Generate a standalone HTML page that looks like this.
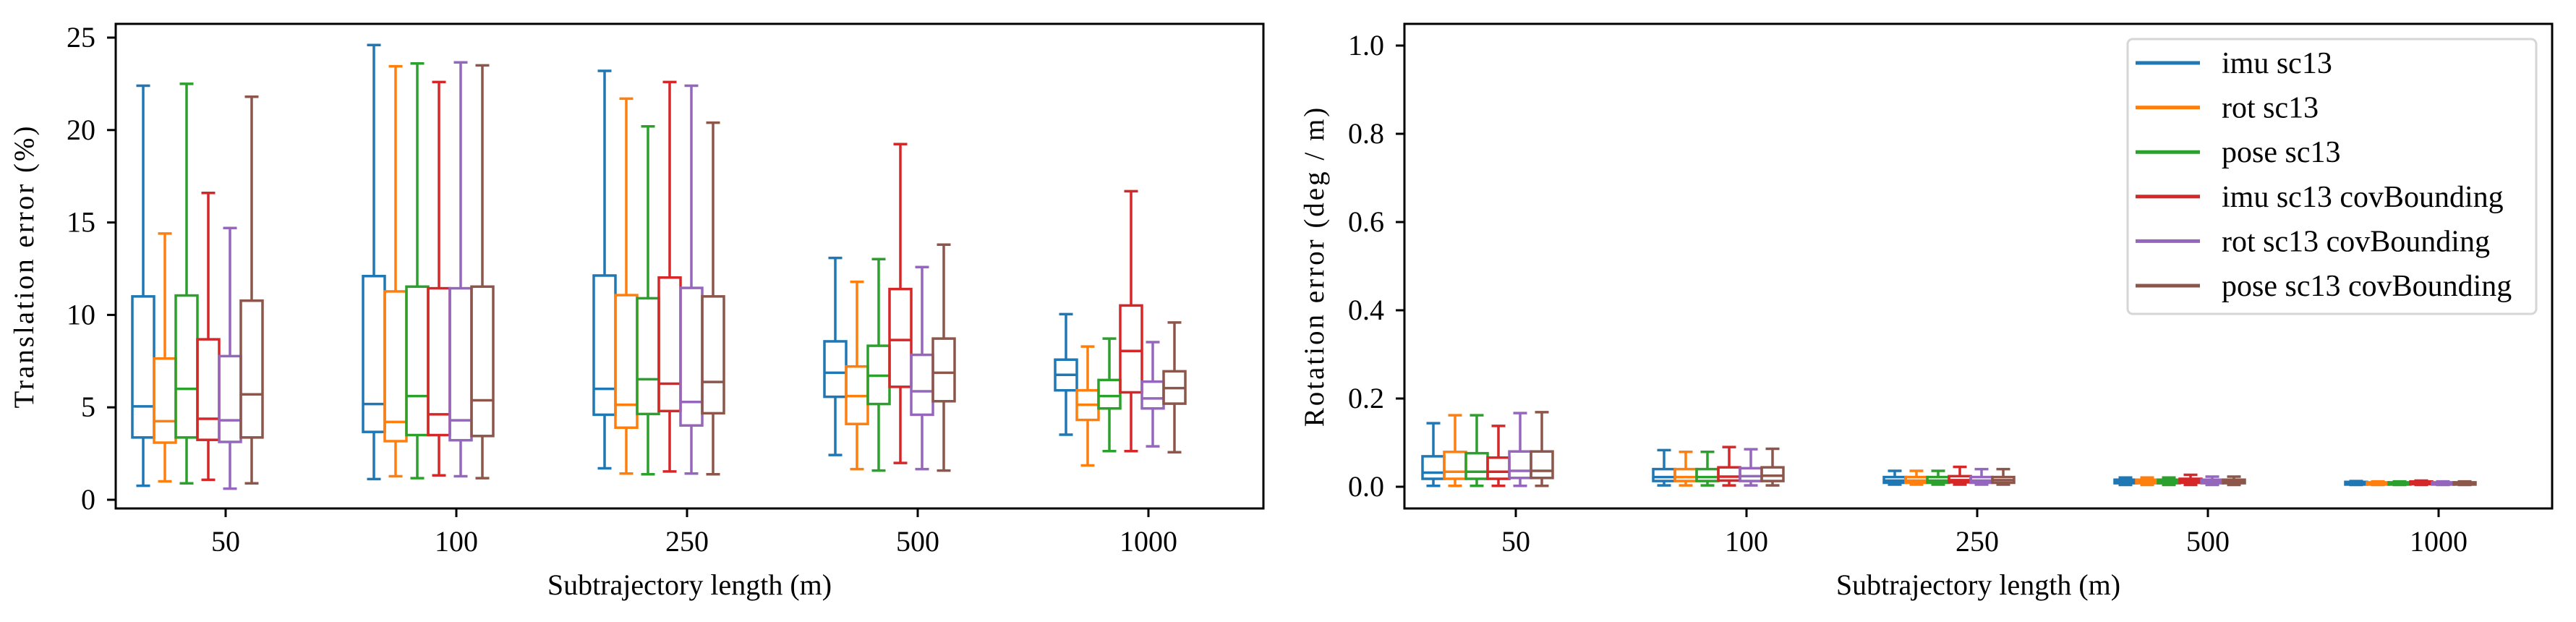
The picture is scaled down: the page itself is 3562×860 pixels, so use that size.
<!DOCTYPE html>
<html><head><meta charset="utf-8"><style>
html,body{margin:0;padding:0;background:#fff;}
svg{display:block;}
text{font-family:"Liberation Serif",serif;fill:#000;}
</style></head><body>
<svg id="chart" width="3562" height="860" xmlns="http://www.w3.org/2000/svg">
<rect width="3562" height="860" fill="#fff"/>
<g id="left"></g>
<g id="right"></g>
</svg>
<script>
const categories = ["50","100","250","500","1000"];
const seriesNames = ["imu sc13","rot sc13","pose sc13","imu sc13 covBounding","rot sc13 covBounding","pose sc13 covBounding"];
const colors = ["#1f77b4","#ff7f0e","#2ca02c","#d62728","#9467bd","#8c564b"];
const leftYTicks = [0,5,10,15,20,25];
const rightYTicks = ["0.0","0.2","0.4","0.6","0.8","1.0"];
// translation error [whislo,q1,med,q3,whishi] per series per category
const transImu      = [[0.76,3.37,5.05,11.0,22.4],[1.12,3.67,5.18,12.1,24.6],[1.7,4.6,6.0,12.13,23.2],[2.42,5.57,6.87,8.57,13.08],[3.52,5.92,6.76,7.58,10.04]];
const transRot      = [[1.0,3.09,4.25,7.64,14.4],[1.27,3.17,4.21,11.27,23.45],[1.42,3.9,5.14,11.07,21.7],[1.66,4.1,5.61,7.21,11.79],[1.86,4.32,5.14,5.92,8.29]];
const transPose     = [[0.89,3.37,6.0,11.05,22.5],[1.17,3.5,5.61,11.53,23.6],[1.38,4.64,6.52,10.9,20.2],[1.58,5.18,6.71,8.33,13.02],[2.63,4.94,5.61,6.48,8.72]];
const transImuCov   = [[1.08,3.24,4.38,8.68,16.6],[1.32,3.5,4.62,11.44,22.6],[1.53,4.8,6.28,12.02,22.6],[1.99,6.11,8.64,11.4,19.24],[2.63,5.81,8.05,10.51,16.69]];
const transRotCov   = [[0.6,3.13,4.3,7.77,14.7],[1.27,3.22,4.3,11.44,23.66],[1.42,4.02,5.29,11.46,22.4],[1.66,4.6,5.87,7.84,12.59],[2.89,4.94,5.48,6.39,8.53]];
const transPoseCov  = [[0.89,3.37,5.7,10.77,21.8],[1.17,3.45,5.38,11.53,23.5],[1.38,4.68,6.37,11.0,20.4],[1.58,5.33,6.87,8.72,13.8],[2.57,5.2,6.04,6.95,9.59]];
// rotation error
const rotImu     = [[0.002,0.018,0.032,0.069,0.144],[0.003,0.013,0.022,0.040,0.083],[0.005,0.009,0.014,0.022,0.036],[0.004,0.008,0.012,0.016,0.021],[0.004,0.005,0.008,0.011,0.013]];
const rotRot     = [[0.002,0.018,0.034,0.079,0.162],[0.003,0.013,0.022,0.040,0.079],[0.005,0.009,0.014,0.022,0.036],[0.004,0.008,0.012,0.016,0.021],[0.004,0.005,0.008,0.010,0.012]];
const rotPose    = [[0.002,0.018,0.034,0.076,0.162],[0.003,0.013,0.022,0.040,0.079],[0.005,0.009,0.014,0.022,0.036],[0.004,0.008,0.012,0.016,0.021],[0.004,0.005,0.007,0.010,0.012]];
const rotImuCov  = [[0.002,0.018,0.034,0.066,0.138],[0.003,0.014,0.023,0.044,0.090],[0.005,0.010,0.015,0.024,0.045],[0.004,0.009,0.013,0.018,0.027],[0.004,0.006,0.009,0.012,0.014]];
const rotRotCov  = [[0.002,0.020,0.036,0.080,0.167],[0.003,0.013,0.024,0.042,0.085],[0.005,0.009,0.014,0.022,0.040],[0.004,0.008,0.012,0.016,0.023],[0.004,0.005,0.008,0.010,0.012]];
const rotPoseCov = [[0.002,0.020,0.036,0.080,0.169],[0.003,0.013,0.025,0.044,0.086],[0.005,0.009,0.015,0.022,0.040],[0.004,0.008,0.012,0.016,0.023],[0.004,0.005,0.008,0.010,0.012]];

const NS="http://www.w3.org/2000/svg";
function mk(parent,tag,attrs,txt){const e=document.createElementNS(NS,tag);for(const k in attrs)e.setAttribute(k,attrs[k]);if(txt!==undefined)e.textContent=txt;parent.appendChild(e);return e;}

function panel(g,cfg){
  const {x0,x1,y0,y1,tick0,tickStep,yv0,yp0,yv1,yp1,data,yTicks,yLabels,ylabel,ylabelX,tickLabelRight}=cfg;
  const Y=v=>yp0+(v-yv0)*(yp1-yp0)/(yv1-yv0);
  const X=i=>tick0+i*tickStep;
  const off=[-114,-84,-54,-24,6,36];
  const bw=30, cw=19;
  categories.forEach((c,ci)=>{
    data.forEach((ser,si)=>{
      const d=ser[ci]; const cx=X(ci)+off[si]; const col=colors[si];
      const bg=mk(g,'g',{});
      
      
      const st={stroke:col,'stroke-width':3.5,fill:'none'};
      mk(bg,'line',Object.assign({x1:cx,x2:cx,y1:Y(d[0]),y2:Y(d[1])},st));
      mk(bg,'line',Object.assign({x1:cx,x2:cx,y1:Y(d[3]),y2:Y(d[4])},st));
      mk(bg,'line',Object.assign({x1:cx-cw/2,x2:cx+cw/2,y1:Y(d[0]),y2:Y(d[0])},st));
      mk(bg,'line',Object.assign({x1:cx-cw/2,x2:cx+cw/2,y1:Y(d[4]),y2:Y(d[4])},st));
      mk(bg,'rect',Object.assign({x:cx-bw/2,y:Y(d[3]),width:bw,height:Math.max(0.5,Y(d[1])-Y(d[3]))},st));
      mk(bg,'line',Object.assign({x1:cx-bw/2,x2:cx+bw/2,y1:Y(d[2]),y2:Y(d[2])},st));
    });
    const t=mk(g,'line',{x1:X(ci),x2:X(ci),y1:y1,y2:y1+12,stroke:'#000','stroke-width':3});
    
    
    const tl=mk(g,'text',{x:X(ci),y:762,'font-size':40,'text-anchor':'middle'},c);
    
    
  });
  yTicks.forEach((v,i)=>{
    const yy=Y(v);
    mk(g,'line',{x1:x0-12,x2:x0,y1:yy,y2:yy,stroke:'#000','stroke-width':3});
    const tl=mk(g,'text',{x:tickLabelRight,y:yy+13,'font-size':40,'text-anchor':'end'},yLabels[i]);
    
    
  });
  const fr=mk(g,'rect',{x:x0,y:y0,width:x1-x0,height:y1-y0,fill:'none',stroke:'#000','stroke-width':3});
  
  
  const xl=mk(g,'text',{x:(x0+x1)/2,y:822,'font-size':40,'text-anchor':'middle'},'Subtrajectory length (m)');
  
  
  const yl=mk(g,'text',{x:0,y:0,'font-size':39,'text-anchor':'middle','letter-spacing':'3',transform:`translate(${ylabelX},${(y0+y1)/2}) rotate(-90)`},ylabel);
  
  
}

panel(document.getElementById('left'),{x0:160,x1:1747,y0:33,y1:703,tick0:312,tickStep:319,yv0:0,yp0:691,yv1:25,yp1:52,
  data:[transImu,transRot,transPose,transImuCov,transRotCov,transPoseCov],yTicks:leftYTicks,yLabels:leftYTicks.map(String),
  ylabel:'Translation error (%)',ylabelX:46,tickLabelRight:132});
panel(document.getElementById('right'),{x0:1942,x1:3529,y0:33,y1:703,tick0:2096,tickStep:319,yv0:0,yp0:673,yv1:1,yp1:63,
  data:[rotImu,rotRot,rotPose,rotImuCov,rotRotCov,rotPoseCov],yTicks:rightYTicks.map(Number),yLabels:rightYTicks,
  ylabel:'Rotation error (deg / m)',ylabelX:1830,tickLabelRight:1914});

// legend
const rg=document.getElementById('right');
const lg=mk(rg,'g',{});


mk(lg,'rect',{x:2942,y:54,width:565,height:380,rx:7,fill:'#fff',stroke:'#d6d6d6','stroke-width':3});
seriesNames.forEach((n,i)=>{
  const yy=87+i*61.6;
  const e=mk(lg,'g',{});
  
  
  mk(e,'line',{x1:2953,x2:3042,y1:yy,y2:yy,stroke:colors[i],'stroke-width':5});
  mk(e,'text',{x:3072,y:yy+14,'font-size':42},n);
});
</script>
</body></html>
